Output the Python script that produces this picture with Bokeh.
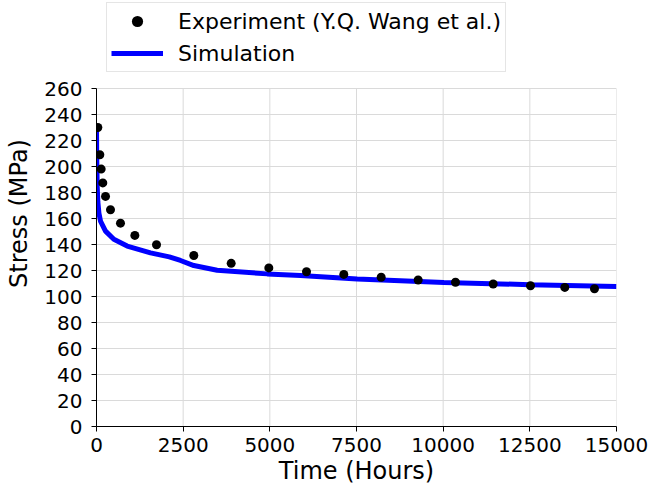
from bokeh.plotting import figure
from bokeh.models import Legend, LegendItem, FixedTicker, ColumnDataSource
from bokeh.embed import file_html
from bokeh.resources import INLINE

# Experimental data (Y.Q. Wang et al.)
exp_time = [38, 96, 135, 182, 260, 404, 692, 1106, 1731, 2807, 3885, 4971,
            6058, 7134, 8212, 9279, 10356, 11443, 12519, 13509, 14365]
exp_stress = [230, 209, 198, 187.4, 177, 166.7, 156.4, 147, 139.8, 131.5, 125.5, 122,
              119, 117, 114.8, 112.7, 111, 109.6, 108.3, 107, 106]

# Simulation curve
sim_time = [0, 5, 20, 38, 70, 115, 260, 500, 885, 1558, 2100, 2423, 2807,
            3480, 4924, 5885, 7520, 10019, 12500, 15000]
sim_stress = [232, 210, 185, 173, 164, 158, 150.3, 144, 138.8, 133.6, 130.5, 127.7, 123.8,
              120.2, 117.4, 116.2, 113.4, 110.8, 109.1, 107.7]

x_ticks = [0, 2500, 5000, 7500, 10000, 12500, 15000]
y_ticks = list(range(0, 261, 20))

X_MIN, X_MAX = 0, 15000
Y_MIN, Y_MAX = 0, 260

FONT = "DejaVu Sans"

# frame spans from the top of the canvas (room for the legend) down to the x axis;
# the data area (0..260) occupies the lower 338 of 426 px
FRAME_H, DATA_H = 426, 338
y_top = Y_MAX * FRAME_H / DATA_H

p = figure(width=648, height=490, x_range=(X_MIN, X_MAX), y_range=(Y_MIN, y_top),
           output_backend="svg", toolbar_location=None,
           min_border_left=96, min_border_right=32, min_border_top=0, min_border_bottom=64)
p.outline_line_color = None
p.background_fill_color = "white"
p.border_fill_color = "white"

sim_src = ColumnDataSource(dict(x=sim_time, y=sim_stress))
exp_src = ColumnDataSource(dict(x=exp_time, y=exp_stress))

# vertical grid lines limited to the data area
p.segment(x0=x_ticks, y0=[Y_MIN] * len(x_ticks), x1=x_ticks, y1=[Y_MAX] * len(x_ticks),
          line_color="#dadada", line_width=1, level="underlay")
p.xgrid.visible = False
p.ygrid.ticker = FixedTicker(ticks=y_ticks)
p.ygrid.grid_line_color = "#dadada"
p.ygrid.grid_line_width = 1

r_line = p.line("x", "y", source=sim_src, line_color="#0000ff", line_width=5)
r_pts = p.scatter("x", "y", source=exp_src, size=9, fill_color="black", line_color=None)

for ax, ticks in ((p.xaxis, x_ticks), (p.yaxis, y_ticks)):
    ax.ticker = FixedTicker(ticks=ticks)
    ax.major_label_text_font = FONT
    ax.major_label_text_font_size = "20px"
    ax.major_label_text_color = "black"
    ax.axis_label_text_font = FONT
    ax.axis_label_text_font_size = "24px"
    ax.axis_label_text_font_style = "normal"
    ax.axis_label_text_color = "black"
    ax.axis_line_color = "black"
    ax.axis_line_width = 1
    ax.major_tick_line_color = "black"
    ax.major_tick_out = 5
    ax.major_tick_in = 0
    ax.minor_tick_line_color = None

p.yaxis.bounds = (Y_MIN, Y_MAX)
p.xaxis.axis_label = "Time (Hours)"
p.yaxis.axis_label = "Stress (MPa)"
p.xaxis.major_label_standoff = 6
p.xaxis.axis_label_standoff = 2
p.yaxis.major_label_standoff = 9
p.yaxis.axis_label_standoff = 8

legend = Legend(items=[LegendItem(label="Experiment (Y.Q. Wang et al.)", renderers=[r_pts]),
                       LegendItem(label="Simulation", renderers=[r_line])],
                location=(10, 354))
legend.label_text_font = FONT
legend.label_text_font_size = "22px"
legend.label_text_color = "black"
legend.glyph_width = 52
legend.glyph_height = 28
legend.label_height = 28
legend.label_standoff = 15
legend.spacing = 4
legend.padding = 4
legend.margin = 0
legend.border_line_color = "#cccccc"
legend.border_line_width = 1
legend.background_fill_color = "white"
legend.background_fill_alpha = 1.0
p.add_layout(legend, "center")

open("out.html", "w").write(file_html(p, INLINE))
